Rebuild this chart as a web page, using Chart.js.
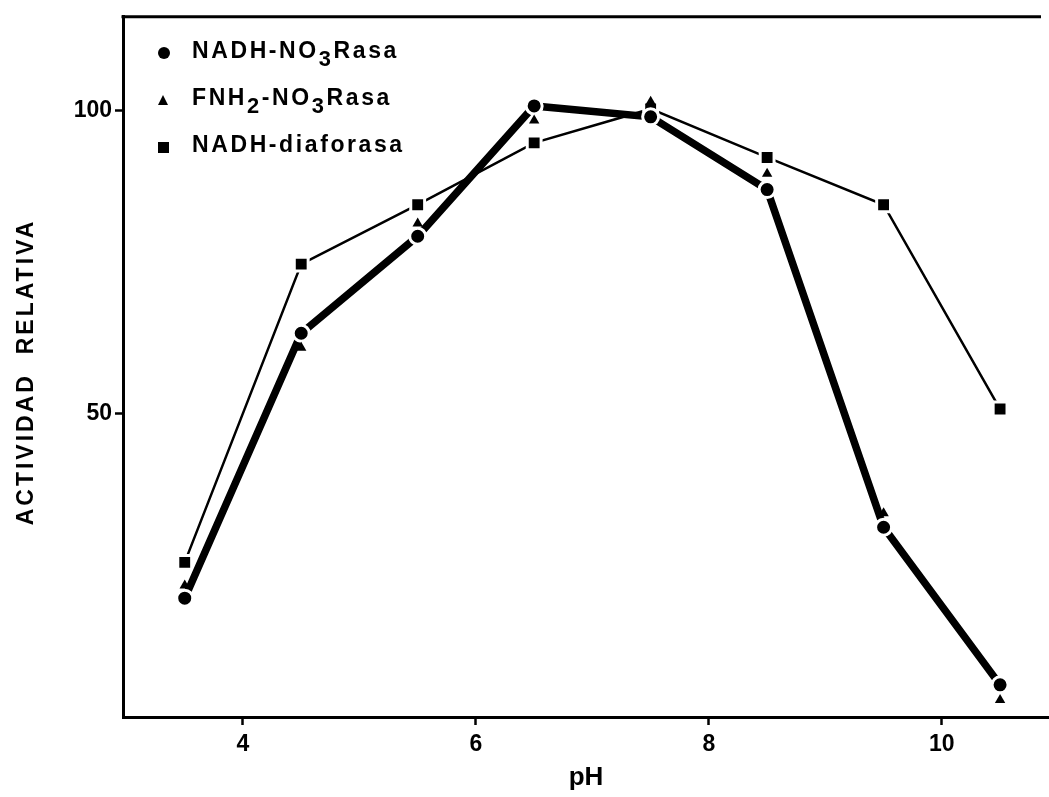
<!DOCTYPE html>
<html lang="es">
<head>
  <meta charset="UTF-8">
  <title>Actividad relativa vs pH</title>
  <script src="https://cdn.jsdelivr.net/npm/chart.js"></script>
  <style>
    html, body { margin: 0; padding: 0; background: #fff; }
    #wrap { position: relative; width: 1049px; height: 797px; }
    #legend { position: absolute; left: 152px; top: 37px; font-family: "Liberation Sans", Arial, sans-serif;
      font-size: 23px; font-weight: bold; letter-spacing: 2.6px; color: #000; }
    #legend .row { height: 47px; display: flex; align-items: flex-start; }
    #legend .mk { width: 40px; height: 26px; position: relative; }
    #legend sub { font-size: 95%; vertical-align: -0.35em; line-height: 0; }
    .dot { position: absolute; left: 6px; top: 10px; width: 12px; height: 12px; border-radius: 50%; background: #000; }
    .tri { position: absolute; left: 6px; top: 11px; width: 0; height: 0; border-left: 5px solid transparent;
      border-right: 5px solid transparent; border-bottom: 10px solid #000; }
    .sq { position: absolute; left: 6px; top: 11px; width: 11px; height: 11px; background: #000; }
  </style>
</head>
<body>
  <div id="wrap">
    <canvas id="chart" width="1049" height="797"></canvas>
    <div id="legend"></div>
  </div>

  <script>
    // pH values of the measurements
    const ph = [3.5, 4.5, 5.5, 6.5, 7.5, 8.5, 9.5, 10.5];
    // relative activity
    const nadhNo3 = [19.6, 63.3, 79.3, 100.8, 99.0, 87.0, 31.3, 5.3];
    const fnh2No3 = [21.7, 60.9, 81.4, 98.4, 101.5, 89.6, 33.6, 2.8];
    const diaforasa = [25.5, 74.7, 84.5, 94.7, 100.3, 92.3, 84.5, 50.8];

    const seriesNames = ['NADH-NO<sub>3</sub>Rasa', 'FNH<sub>2</sub>-NO<sub>3</sub>Rasa', 'NADH-diaforasa'];
    const xTicks = [4, 6, 8, 10];
    const yTicks = [50, 100];

    const toPts = vals => vals.map((v, i) => ({ x: ph[i], y: v }));
    const FONT = '"Liberation Sans", Arial, sans-serif';

    // top frame line + rotated y title with letter spacing
    const extras = {
      id: 'extras',
      afterDraw(chart) {
        const { ctx, chartArea } = chart;
        ctx.save();
        ctx.strokeStyle = '#000';
        ctx.lineWidth = 3;
        ctx.beginPath();
        ctx.moveTo(chartArea.left - 1.5, chartArea.top);
        ctx.lineTo(chartArea.right - 8, chartArea.top);
        ctx.stroke();

        ctx.translate(27, 372);
        ctx.rotate(-Math.PI / 2);
        ctx.font = 'bold 23px ' + FONT;
        ctx.letterSpacing = '3px';
        ctx.fillStyle = '#000';
        ctx.textAlign = 'center';
        ctx.textBaseline = 'middle';
        ctx.fillText('ACTIVIDAD  RELATIVA', 0, 0);
        ctx.restore();
      }
    };

    const ctx = document.getElementById('chart').getContext('2d');
    const chart = new Chart(ctx, {
      type: 'scatter',
      data: {
        datasets: [
          {
            label: 'NADH-NO3Rasa',
            data: toPts(nadhNo3),
            order: 1,
            showLine: true,
            borderColor: '#000',
            backgroundColor: '#000',
            borderWidth: 7.5,
            borderCapStyle: 'round',
            pointStyle: 'circle',
            pointRadius: 8,
            pointBorderWidth: 3,
            pointBorderColor: '#fff'
          },
          {
            label: 'FNH2-NO3Rasa',
            data: toPts(fnh2No3),
            order: 0,
            showLine: false,
            borderColor: '#000',
            backgroundColor: '#000',
            pointStyle: 'triangle',
            pointRadius: 6,
            pointBorderWidth: 0
          },
          {
            label: 'NADH-diaforasa',
            data: toPts(diaforasa),
            order: 2,
            showLine: true,
            borderColor: '#000',
            backgroundColor: '#000',
            borderWidth: 2.5,
            borderCapStyle: 'round',
            pointStyle: 'rect',
            pointRadius: 9.8,
            pointBorderWidth: 3,
            pointBorderColor: '#fff'
          }
        ]
      },
      options: {
        responsive: false,
        animation: false,
        layout: { autoPadding: false, padding: { top: 15, right: 0, left: 0, bottom: 0 } },
        plugins: { legend: { display: false }, tooltip: { enabled: false } },
        scales: {
          x: {
            type: 'linear',
            min: 2.97,
            max: 10.92,
            afterFit: s => { s.height = 80; },
            afterBuildTicks: s => { s.ticks = xTicks.map(v => ({ value: v })); },
            grid: { drawOnChartArea: false, drawTicks: true, tickLength: 8, tickWidth: 2.5, tickColor: '#000' },
            border: { display: true, color: '#000', width: 3 },
            ticks: { color: '#000', font: { family: FONT, size: 23, weight: 'bold' }, padding: 6, maxRotation: 0 },
            title: { display: true, text: 'pH', color: '#000', font: { family: FONT, size: 26, weight: 'bold' }, padding: { top: 2 } }
          },
          y: {
            min: 0,
            max: 115.5,
            afterFit: s => { s.width = 123; },
            afterBuildTicks: s => { s.ticks = yTicks.map(v => ({ value: v })); },
            grid: { drawOnChartArea: false, drawTicks: true, tickLength: 8, tickWidth: 2.5, tickColor: '#000' },
            border: { display: true, color: '#000', width: 3 },
            ticks: { color: '#000', font: { family: FONT, size: 23, weight: 'bold' }, padding: 3 }
          }
        }
      },
      plugins: [extras]
    });

    // legend with real subscripts
    const marks = ['dot', 'tri', 'sq'];
    document.getElementById('legend').innerHTML = seriesNames.map((n, i) =>
      `<div class="row"><span class="mk"><span class="${marks[i]}"></span></span><span>${n}</span></div>`
    ).join('');
  </script>
</body>
</html>
